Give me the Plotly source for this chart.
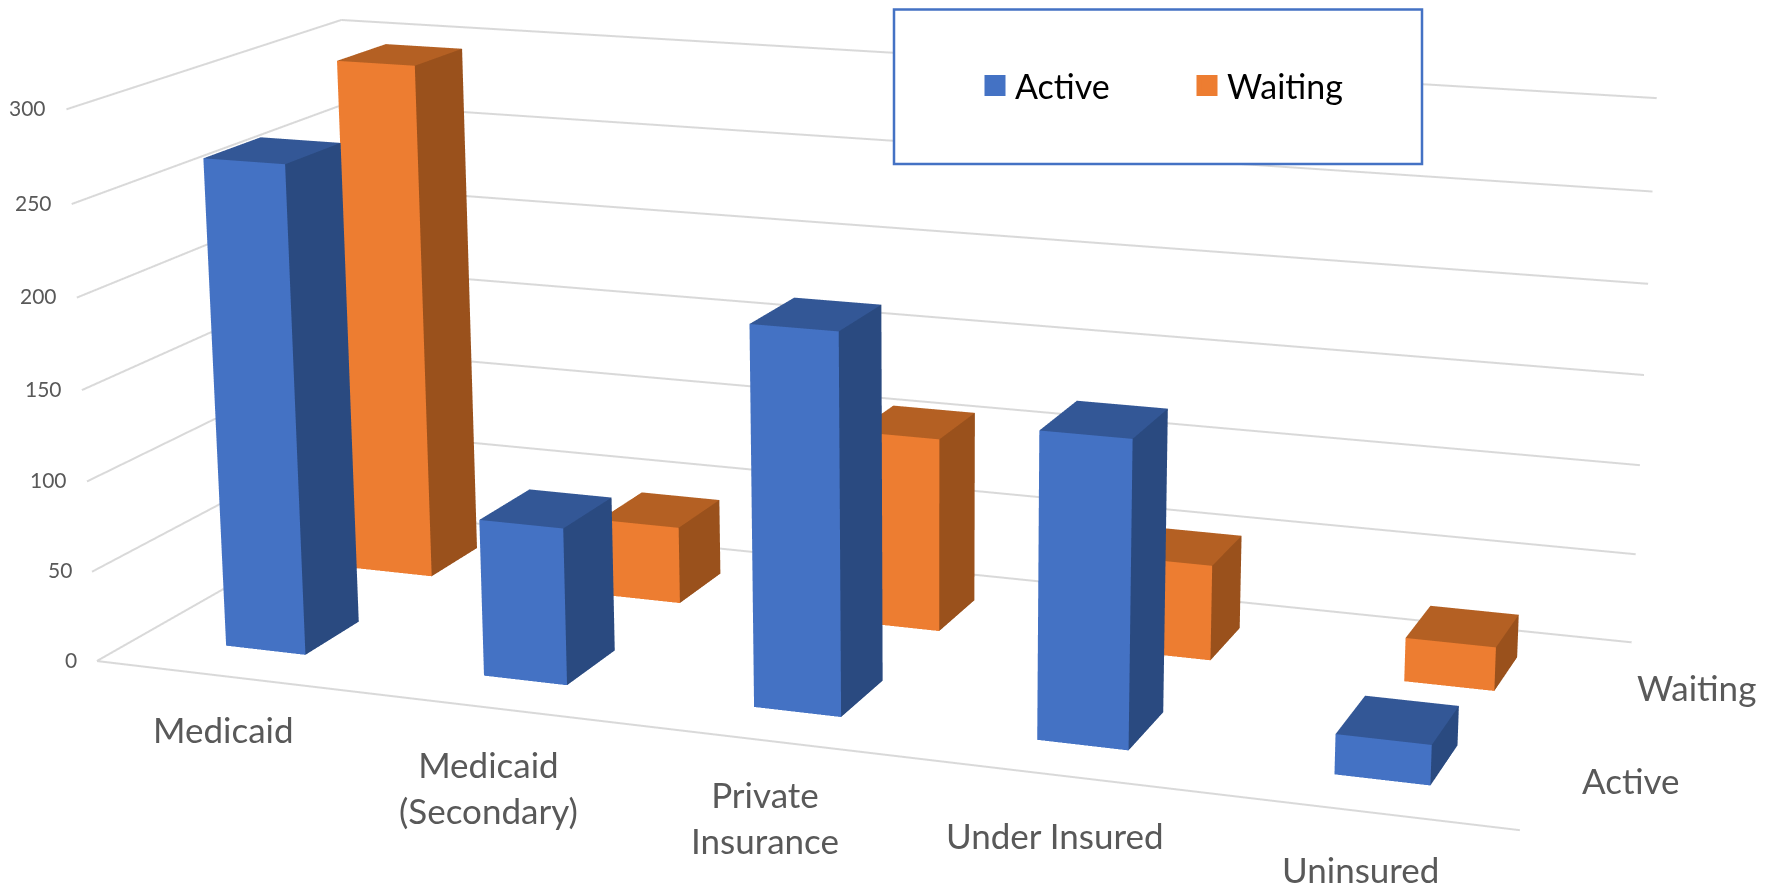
import plotly.graph_objects as go

categories = ["Medicaid", "Medicaid<br>(Secondary)", "Private<br>Insurance", "Under Insured", "Uninsured"]
series = ["Active", "Waiting"]
active = [269, 86, 204, 162, 21]
waiting = [296, 44, 109, 53, 24]
z_ticks = [0, 50, 100, 150, 200, 250, 300]

# The chart uses a long lens. Plotly's field of view is fixed, so the plot is
# larger than the window and the window shows the part holding the chart.
W, H = 1868, 3343
LEFT, TOP = 0, -1263

BAR_W, BAR_DX = 0.3125, -0.004
BAR_Y = [(0.3044, 0.7116), (1.3044, 1.6956)]  # front and back of the bars in each depth slot
BLUE = ("#4472C4", "#2A4A80", "#335796")
ORANGE = ("#ED7D31", "#9A511C", "#B46023")
GRID = "#d9d9d9"
LABEL = "#595959"


def bars(values, slot, colours, name):
    front, side, top = colours
    X, Y, Z, I, J, K, FC = [], [], [], [], [], [], []
    y0, y1 = BAR_Y[slot]
    for i, v in enumerate(values):
        x0, x1 = i + .5 + BAR_DX - BAR_W / 2, i + .5 + BAR_DX + BAR_W / 2
        n = len(X)
        for p in [(x0, y0, 0), (x1, y0, 0), (x1, y1, 0), (x0, y1, 0), (x0, y0, v), (x1, y0, v), (x1, y1, v), (x0, y1, v)]:
            X.append(p[0]); Y.append(p[1]); Z.append(p[2])
        for t, c in [((0, 1, 5), front), ((0, 5, 4), front), ((1, 2, 6), side), ((1, 6, 5), side), ((4, 5, 6), top), ((4, 6, 7), top)]:
            I.append(n + t[0]); J.append(n + t[1]); K.append(n + t[2]); FC.append(c)
    return go.Mesh3d(x=X, y=Y, z=Z, i=I, j=J, k=K, facecolor=FC, flatshading=True, hoverinfo="skip", showlegend=False, name=name,
                     lighting=dict(ambient=1, diffuse=0, specular=0, fresnel=0, roughness=1))


gx, gy, gz = [0, 5, None], [0, 0, None], [0, 0, None]
for z in z_ticks:
    gx += [0, 0, 5, None]; gy += [0, 2, 2, None]; gz += [z, z, z, None]
grid = go.Scatter3d(x=gx, y=gy, z=gz, mode="lines", line=dict(color=GRID, width=4), hoverinfo="skip", showlegend=False)

legend_items = [go.Scatter3d(x=[None], y=[None], z=[None], mode="markers", name=n,
                             marker=dict(symbol="square", size=16, color=c[0], line=dict(color=c[0], width=5)))
                for n, c in zip(series, [BLUE, ORANGE])]

fig = go.Figure([grid, bars(active, 0, BLUE, series[0]), bars(waiting, 1, ORANGE, series[1])] + legend_items)

ax = dict(showbackground=False, showticklabels=False, ticks="", title="", showspikes=False, zeroline=False, showgrid=False, showline=False)


def px(x):
    return (x - LEFT) / W


def py(y):
    return 1 - (y - TOP) / H


notes = []
for z in z_ticks:
    notes.append(dict(x=0, y=0, z=z, text=str(z), showarrow=False, xanchor="right", yanchor="middle", xshift=-18, yshift=2,
                      font=dict(family="Lato", size=21, color=LABEL)))
cat_shift = [(-1, -53), (0, -79), (0, -77), (-1, -60), (-1, -58)]
for i, c in enumerate(categories):
    notes.append(dict(x=i + .5, y=0, z=0, text=c, showarrow=False, xanchor="center", yanchor="middle",
                      xshift=cat_shift[i][0], yshift=cat_shift[i][1], font=dict(family="Lato", size=35, color=LABEL)))
ser_shift = [(80, -2), (90, -2)]
for s, c in enumerate(series):
    notes.append(dict(x=5, y=s + .5, z=0, text=c, showarrow=False, xanchor="center", yanchor="middle",
                      xshift=ser_shift[s][0], yshift=ser_shift[s][1], font=dict(family="Lato", size=35, color=LABEL)))

fig.update_layout(
    width=W, height=H, margin=dict(l=0, r=0, t=0, b=0), paper_bgcolor="white", showlegend=True,
    legend=dict(orientation="h", x=px(975), y=py(86), xanchor="left", yanchor="middle", entrywidth=167,
                font=dict(family="Lato", size=34, color="black"), bgcolor="rgba(0,0,0,0)"),
    shapes=[dict(type="rect", xref="paper", yref="paper", x0=px(894), x1=px(1422), y0=py(9.5), y1=py(164),
                 line=dict(color="#4472C4", width=2.5), fillcolor="white", layer="above")],
    scene=dict(domain=dict(x=[0, 1], y=[0, 1]), aspectmode="manual", aspectratio=dict(x=2.56928, y=1.01794, z=1),
               camera=dict(eye=dict(x=2.40364, y=-6.48640, z=1.76577), center=dict(x=-0.37331, y=1.40989, z=-0.42869),
                           up=dict(x=-0.00207, y=0, z=1)),
               xaxis=dict(ax, range=[0, 5]), yaxis=dict(ax, range=[0, 2]), zaxis=dict(ax, range=[0, 300], tickvals=z_ticks),
               annotations=notes))
fig.write_html("out.html", default_width=f"{W}px", default_height=f"{H}px", config=dict(displayModeBar=False),
               post_script=f"document.documentElement.style.overflow='hidden';document.body.style.overflow='hidden';document.body.style.margin='0';var g=document.querySelector('.plotly-graph-div');g.style.position='absolute';g.style.left='{LEFT}px';g.style.top='{TOP}px';")
